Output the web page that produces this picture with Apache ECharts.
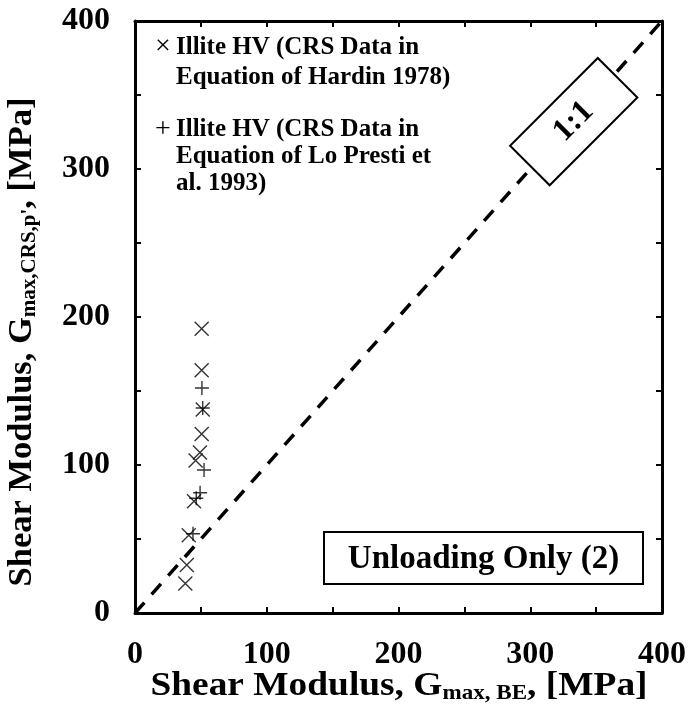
<!DOCTYPE html>
<html><head><meta charset="utf-8">
<script src="https://cdn.jsdelivr.net/npm/echarts@6/dist/echarts.min.js"></script>
<style>html,body{margin:0;padding:0;background:#fff}#c{width:690px;height:711px}</style>
</head><body><div id="c"></div>
<script>
// Data
const hardinX = [50.6, 50.6, 51.4, 50.6, 49.3, 46.0, 44.8, 40.8, 39.3, 38.2];
const hardinY = [192, 164, 137.5, 121, 108.5, 103, 75.5, 52.5, 32.5, 20];
const loPrestiX = [50.8, 51.4, 52.4, 49.4, 46.5, 44.0];
const loPrestiY = [152, 138.5, 96.6, 81.3, 77.5, 53.5];
const oneToOne = [0, 400];
const tickLabels = ['0', '100', '200', '300', '400'];

const FONT = '"Liberation Serif", "Times New Roman", serif';
const crossPath = 'path://M0,0L10,10M10,0L0,10';
const plusPath = 'path://M5,0L5,10M0,5L10,5';

const chart = echarts.init(document.getElementById('c'));
const axisCommon = {
  type: 'value', min: 0, max: 400, interval: 50,
  axisLine: {show: true, onZero: false, lineStyle: {color: '#000', width: 3}},
  axisTick: {show: true, inside: true, length: 6, lineStyle: {color: '#000', width: 2}},
  splitLine: {show: false},
};
const labelFmt = v => (v % 100 === 0 ? tickLabels[v / 100] : '');
const labelStyle = {formatter: labelFmt, color: '#000', fontFamily: FONT, fontWeight: 'bold', fontSize: 32};
chart.setOption({
  animation: false,
  grid: {left: 135, right: 28, top: 21, bottom: 98},
  xAxis: [
    Object.assign({}, axisCommon, {position: 'bottom', axisLabel: Object.assign({margin: 26}, labelStyle)}),
    Object.assign({}, axisCommon, {position: 'top', axisLabel: {show: false}})
  ],
  yAxis: [
    Object.assign({}, axisCommon, {position: 'left', axisLabel: Object.assign({margin: 25}, labelStyle)}),
    Object.assign({}, axisCommon, {position: 'right', axisLabel: {show: false}})
  ],
  series: [
    {
      type: 'line', data: oneToOne.map(v => [v, v]), symbol: 'none', z: 1,
      lineStyle: {color: '#000', width: 3.5, type: [14, 11]}, silent: true
    },
    {
      name: 'hardin', type: 'scatter', symbol: crossPath, symbolSize: 14, z: 3,
      data: hardinX.map((x, i) => [x, hardinY[i]]),
      itemStyle: {color: 'transparent', borderColor: '#000', borderWidth: 1.4}
    },
    {
      name: 'lopresti', type: 'scatter', symbol: plusPath, symbolSize: 14, z: 3,
      data: loPrestiX.map((x, i) => [x, loPrestiY[i]]),
      itemStyle: {color: 'transparent', borderColor: '#000', borderWidth: 1.4}
    }
  ]
});

const c = chart.convertToPixel({xAxisIndex: 0, yAxisIndex: 0}, [333, 332]);
const Z = 100;
const rich = (size, sub) => ({
  m: {font: 'bold ' + size + 'px ' + FONT, fill: '#000'},
  s: {font: 'bold ' + sub + 'px ' + FONT, fill: '#000', padding: [16, 0, 0, 0]}
});
chart.setOption({
  graphic: [
    // 1:1 box
    {type: 'group', x: c[0], y: c[1], rotation: Math.PI / 4, z: Z, children: [
      {type: 'rect', z: Z, shape: {x: -62, y: -28, width: 124, height: 56}, style: {fill: '#fff', stroke: '#000', lineWidth: 2}},
      {type: 'text', z: Z + 1, x: 0, y: 0, style: {text: '1:1', font: 'bold 32px ' + FONT, fill: '#000', align: 'center', verticalAlign: 'middle'}}
    ]},
    // Unloading box
    {type: 'rect', z: Z, shape: {x: 324, y: 532, width: 319, height: 52}, style: {fill: '#fff', stroke: '#000', lineWidth: 2}},
    {type: 'text', z: Z + 1, x: 483.5, y: 559, style: {text: 'Unloading Only (2)', font: 'bold 33px ' + FONT, fill: '#000', align: 'center', verticalAlign: 'middle'}},
    // legend
    {type: 'text', z: Z, x: 163, y: 47, style: {text: '×', font: '28px ' + FONT, fill: '#000', align: 'center', verticalAlign: 'middle'}},
    {type: 'text', z: Z, x: 176, y: 33, style: {text: 'Illite HV (CRS Data in\nEquation of Hardin 1978)', font: 'bold 25px ' + FONT, fill: '#000', lineHeight: 30}},
    {type: 'text', z: Z, x: 163, y: 130, style: {text: '+', font: '28px ' + FONT, fill: '#000', align: 'center', verticalAlign: 'middle'}},
    {type: 'text', z: Z, x: 176, y: 116, style: {text: 'Illite HV (CRS Data in\nEquation of Lo Presti et\nal. 1993)', font: 'bold 25px ' + FONT, fill: '#000', lineHeight: 27}},
    // axis titles
    {type: 'text', z: Z, x: 399, y: 686, scaleX: 1.1, style: {
      text: '{m|Shear Modulus, G}{s|max, BE}{m|, [MPa]}', align: 'center', verticalAlign: 'middle', rich: rich(34, 21)}},
    {type: 'text', z: Z, x: 22, y: 342, rotation: Math.PI / 2, style: {
      text: '{m|Shear Modulus, G}{s|max,CRS,p\'}{m|, [MPa]}', align: 'center', verticalAlign: 'middle', rich: rich(34.5, 21)}}
  ]
});
</script></body></html>
